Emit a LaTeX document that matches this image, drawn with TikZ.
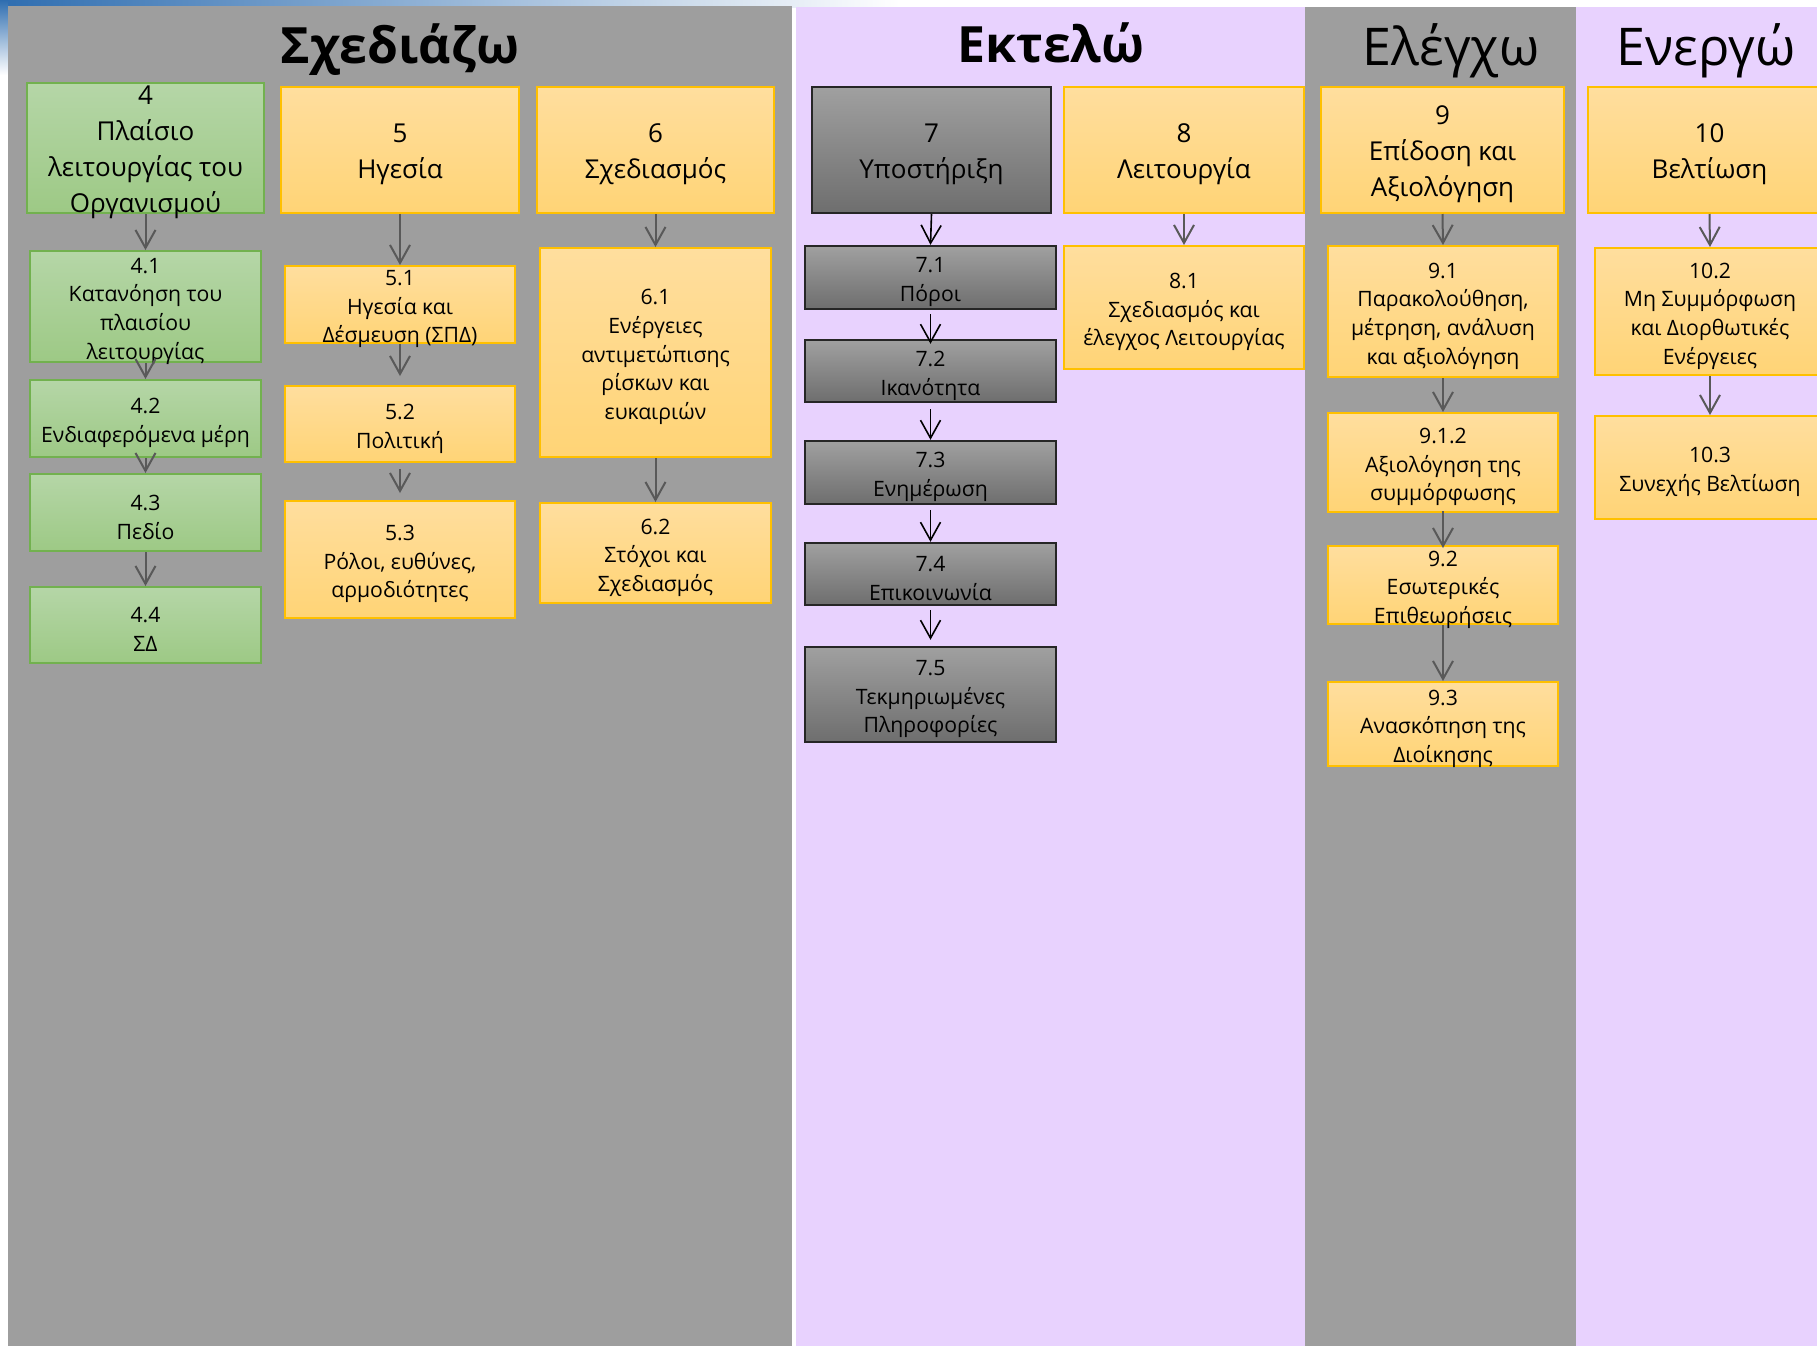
\documentclass[tikz,border=0pt]{standalone}
\usepackage{fontspec}
\setmainfont{Open Sans}
\usetikzlibrary{arrows.meta}

\definecolor{panelgray}{HTML}{9E9E9E}
\definecolor{panellilac}{HTML}{E8D2FE}
\definecolor{slideblue}{HTML}{2E6DB0}
\definecolor{greentop}{HTML}{B5D6A7}
\definecolor{greenbot}{HTML}{9DC985}
\definecolor{greenline}{HTML}{72B14F}
\definecolor{ambertop}{HTML}{FFDE9E}
\definecolor{amberbot}{HTML}{FFD476}
\definecolor{amberline}{HTML}{FFC000}
\definecolor{slatetop}{HTML}{A0A0A0}
\definecolor{slatebot}{HTML}{6E6E6E}
\definecolor{arrowgray}{HTML}{595959}

% fixed size cell: width, height, lines
\newcommand{\celltext}[3]{\parbox[c][#2][c]{#1}{\centering\vspace*{4.6pt}#3}}

\tikzset{
  head/.style={font=\fontsize{26}{30}\selectfont, anchor=base},
  boldhead/.style={head, font=\fontsize{25}{30}\selectfont\bfseries},
  big/.style={font=\fontsize{13}{18}\selectfont},
  small/.style={font=\fontsize{10.6}{14.35}\selectfont},
  greenbox/.style={draw=greenline, line width=1pt, top color=greentop, bottom color=greenbot, inner sep=0pt},
  amberbox/.style={draw=amberline, line width=1pt, top color=ambertop, bottom color=amberbot, inner sep=0pt},
  slatebox/.style={draw=black!85, line width=1.2pt, top color=slatetop, bottom color=slatebot, inner sep=0pt},
  arr/.style={draw=arrowgray, line width=1pt, -{Straight Barb[length=9pt, width=10pt]}},
  blackarr/.style={draw=black, line width=0.8pt, -{Straight Barb[length=9pt, width=10pt]}}
}

\begin{document}
\begin{tikzpicture}[x=0.5pt, y=-0.5pt]
  \useasboundingbox (0,0) rectangle (1817,1346);
  \clip (0,0) rectangle (1817,1346);

  % slide background
  \fill[white] (0,0) rectangle (1817,1346);
  \fill[left color=slideblue, middle color=slideblue!40, right color=white] (0,0) rectangle (900,7);
  \fill[top color=slideblue, bottom color=white] (0,0) rectangle (8,75);

  % phase panels
  \fill[panelgray] (8,6) rectangle (792,1346);
  \fill[panellilac] (796,7) rectangle (1305,1346);
  \fill[panelgray] (1305,7) rectangle (1576,1346);
  \fill[panellilac] (1576,7) rectangle (1817,1346);

  % headings
  \node[boldhead] (plan) at (400,63) {Σχεδιάζω};
  \node[boldhead] (do) at (1051,62) {Εκτελώ};
  \node[head] (check) at (1451,65) {Ελέγχω};
  \node[head] (act) at (1706,65) {Ενεργώ};

  % clause 4
  \node[greenbox, big] (b4) at (145.5,148) {\celltext{118.5pt}{65pt}{4\\Πλαίσιο\\λειτουργίας του\\Οργανισμού}};
  \node[greenbox, small] (b41) at (145.5,306.5) {\celltext{115.5pt}{55.5pt}{4.1\\Κατανόηση του\\πλαισίου\\λειτουργίας}};
  \node[greenbox, small] (b42) at (145.5,418.5) {\celltext{115.5pt}{38.5pt}{4.2\\Ενδιαφερόμενα μέρη}};
  \node[greenbox, small] (b43) at (145.5,512.5) {\celltext{115.5pt}{38.5pt}{4.3\\Πεδίο}};
  \node[greenbox, small] (b44) at (145.5,625) {\celltext{115.5pt}{38pt}{4.4\\ΣΔ}};

  % clause 5
  \node[amberbox, big] (b5) at (400,150) {\celltext{119pt}{63pt}{5\\Ηγεσία}};
  \node[amberbox, small] (b51) at (400,304.5) {\celltext{115pt}{38.5pt}{5.1\\Ηγεσία και\\Δέσμευση (ΣΠΔ)}};
  \node[amberbox, small] (b52) at (400,424) {\celltext{115pt}{38pt}{5.2\\Πολιτική}};
  \node[amberbox, small] (b53) at (400,559.5) {\celltext{115pt}{58.5pt}{5.3\\Ρόλοι, ευθύνες,\\αρμοδιότητες}};

  % clause 6
  \node[amberbox, big] (b6) at (655.5,150) {\celltext{118.5pt}{63pt}{6\\Σχεδιασμός}};
  \node[amberbox, small] (b61) at (655.5,352.5) {\celltext{115.5pt}{104.5pt}{6.1\\Ενέργειες\\αντιμετώπισης\\ρίσκων και\\ευκαιριών}};
  \node[amberbox, small] (b62) at (655.5,553) {\celltext{115.5pt}{50pt}{6.2\\Στόχοι και\\Σχεδιασμός}};

  % clause 7
  \node[slatebox, big] (b7) at (931.5,150) {\celltext{119.5pt}{63pt}{7\\Υποστήριξη}};
  \node[slatebox, small] (b71) at (930.5,277.5) {\celltext{125.5pt}{31.5pt}{7.1\\Πόροι}};
  \node[slatebox, small] (b72) at (930.5,371) {\celltext{125.5pt}{31pt}{7.2\\Ικανότητα}};
  \node[slatebox, small] (b73) at (930.5,472.5) {\celltext{125.5pt}{31.5pt}{7.3\\Ενημέρωση}};
  \node[slatebox, small] (b74) at (930.5,574) {\celltext{125.5pt}{31pt}{7.4\\Επικοινωνία}};
  \node[slatebox, small] (b75) at (930.5,694.5) {\celltext{125.5pt}{47.5pt}{7.5\\Τεκμηριωμένες\\Πληροφορίες}};

  % clause 8
  \node[amberbox, big] (b8) at (1184,150) {\celltext{120pt}{63pt}{8\\Λειτουργία}};
  \node[amberbox, small] (b81) at (1184,307.5) {\celltext{120pt}{61.5pt}{8.1\\Σχεδιασμός και\\έλεγχος Λειτουργίας}};

  % clause 9
  \node[amberbox, big] (b9) at (1442.5,150) {\celltext{121.5pt}{63pt}{9\\Επίδοση και\\Αξιολόγηση}};
  \node[amberbox, small] (b91) at (1443,311.5) {\celltext{115pt}{65.5pt}{9.1\\Παρακολούθηση,\\μέτρηση, ανάλυση\\και αξιολόγηση}};
  \node[amberbox, small] (b912) at (1443,462.5) {\celltext{115pt}{49.5pt}{9.1.2\\Αξιολόγηση της\\συμμόρφωσης}};
  \node[amberbox, small] (b92) at (1443,585) {\celltext{115pt}{39pt}{9.2\\Εσωτερικές\\Επιθεωρήσεις}};
  \node[amberbox, small] (b93) at (1443,724) {\celltext{115pt}{42pt}{9.3\\Ανασκόπηση της\\Διοίκησης}};

  % clause 10
  \node[amberbox, big] (b10) at (1709.5,150) {\celltext{121.5pt}{63pt}{10\\Βελτίωση}};
  \node[amberbox, small] (b102) at (1710,311.5) {\celltext{115pt}{63.5pt}{10.2\\Μη Συμμόρφωση\\και Διορθωτικές\\Ενέργειες}};
  \node[amberbox, small] (b103) at (1710,467.5) {\celltext{115pt}{51.5pt}{10.3\\Συνεχής Βελτίωση}};

  % arrows
  \draw[arr] (b4.south) -- (b41.north);
  \draw[arr] (b41.south) -- (b42.north);
  \draw[arr] (b42.south) -- (b43.north);
  \draw[arr] (b43.south) -- (b44.north);
  \draw[arr] (b5.south) -- (b51.north);
  \draw[arr, shorten >=4.5pt] (b51.south) -- (b52.north);
  \draw[arr, shorten <=3pt, shorten >=3.5pt] (b52.south) -- (b53.north);
  \draw[arr] (b6.south) -- (b61.north);
  \draw[arr] (b61.south) -- (b62.north);
  \draw[blackarr] (b7.south) -- (b71.north);
  \draw[blackarr, shorten <=2pt, shorten >=-2.5pt] (b71.south) -- (b72.north);
  \draw[blackarr, shorten <=3pt] (b72.south) -- (b73.north);
  \draw[blackarr, shorten <=2.5pt] (b73.south) -- (b74.north);
  \draw[blackarr, shorten <=2pt, shorten >=3pt] (b74.south) -- (b75.north);
  \draw[arr] (b8.south) -- (b81.north);
  \draw[arr] (b9.south) -- (b91.north);
  \draw[arr] (b91.south) -- (b912.north);
  \draw[arr, shorten <=-1pt, shorten >=-1.5pt] (b912.south) -- (b92.north);
  \draw[arr] (b92.south) -- (b93.north);
  \draw[arr] (b10.south) -- (b102.north);
  \draw[arr] (b102.south) -- (b103.north);
\end{tikzpicture}
\end{document}
